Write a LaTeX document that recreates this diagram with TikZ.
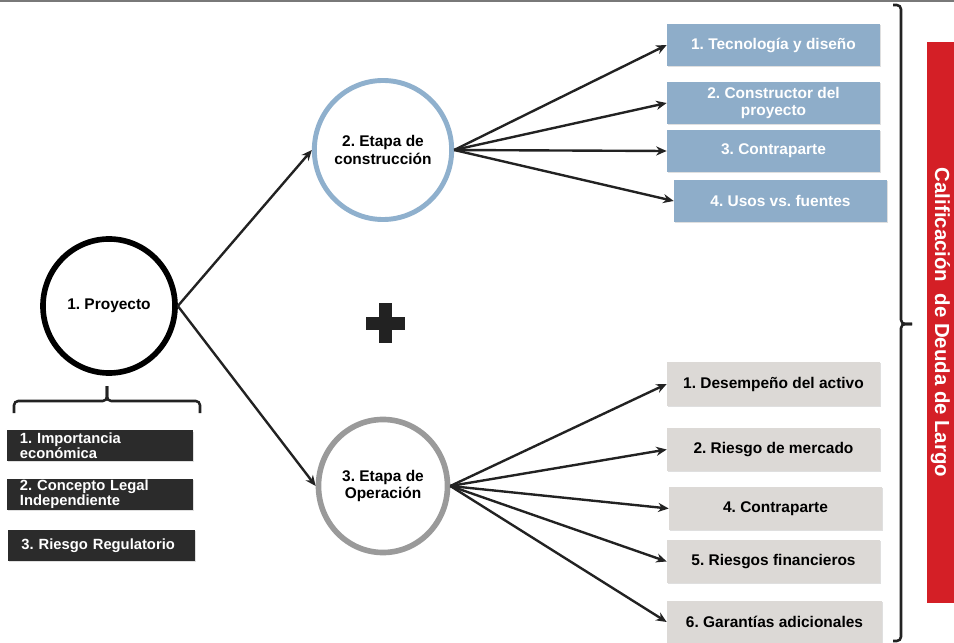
\documentclass[tikz,border=0pt]{standalone}
\usepackage{fontspec}
\setmainfont{Liberation Sans}
\usetikzlibrary{arrows.meta,shapes.geometric,shadows}
\definecolor{boxblue}{HTML}{8EADC9}
\definecolor{ringblue}{HTML}{8FB0CD}
\definecolor{boxgrey}{HTML}{DCD9D6}
\definecolor{ringgrey}{HTML}{9A9A9A}
\definecolor{boxdark}{HTML}{2B2B2B}
\definecolor{ratingred}{HTML}{D41F26}
\definecolor{linedark}{HTML}{222222}

\begin{document}
\frenchspacing
\begin{tikzpicture}
[x=0.025cm,y=-0.025cm,
 every node/.style={font=\fontsize{11}{12.5}\selectfont\bfseries},
 soft/.style={drop shadow={opacity=0.25,shadow xshift=0.8pt,shadow yshift=-0.8pt}},
 stage/.style={ellipse,draw,fill=white,line width=3.5pt,inner sep=0pt,align=center,soft},
 bluebox/.style={fill=boxblue,text=white,minimum width=5.325cm,minimum height=1.05cm,
   inner sep=0pt,align=center,soft},
 greybox/.style={fill=boxgrey,text=black,minimum width=5.325cm,minimum height=1.075cm,
   inner sep=0pt,align=center,soft},
 darkbox/.style={fill=boxdark,text=white,minimum width=4.65cm,minimum height=0.75cm,
   text width=4cm,inner xsep=0.325cm,inner ysep=0pt,align=left,
   font=\fontsize{10.5}{10.5}\selectfont\bfseries,soft},
 arr/.style={draw=linedark,line width=1.7pt,-{Stealth[length=7.5pt,width=6.5pt]}},
 brc/.style={draw=linedark,line width=1.8pt,rounded corners=3pt}]

\useasboundingbox (0,0) rectangle (954,643);
\draw[color=gray!95!black,line width=1.6pt] (0,1) -- (954,1);

% stages
\node[stage,line width=4pt,minimum width=3.3cm,minimum height=3.35cm] (proj) at (109,306) {1. Proyecto};
\node[stage,draw=ringblue,minimum width=3.225cm,minimum height=3.475cm] (constr) at (383,150)
  {2. Etapa de\\construcción};
\node[stage,draw=ringgrey,line width=4pt,minimum width=3.225cm,minimum height=3.325cm] (oper) at (383,486)
  {3. Etapa de\\Operación};

% plus sign
\fill[linedark] (366,316.5) rectangle (405,329.5);
\fill[linedark] (379,303) rectangle (392,343);

% construction items
\node[bluebox] (tec) at (773.5,45) {1. Tecnología y diseño};
\node[bluebox,minimum height=1.05cm] (cons) at (773.5,103) {2. Constructor del\\proyecto};
\node[bluebox] (cpa) at (773.5,151) {3. Contraparte};
\node[bluebox] (usos) at (780.5,201) {4. Usos vs. fuentes};

% operation items
\node[greybox,minimum height=1.1cm] (des) at (773.5,384) {1. Desempeño del activo};
\node[greybox] (mer) at (773.5,449.5) {2. Riesgo de mercado};
\node[greybox] (cpb) at (775.5,508.5) {4. Contraparte};
\node[greybox] (fin) at (773.5,561.5) {5. Riesgos financieros};
\node[greybox,minimum width=5.375cm,minimum height=1.05cm] (gar) at (774.5,622) {6. Garantías adicionales};

% project aspects
\node[darkbox] (imp) at (100,445.5) {1. Importancia\\económica};
\node[darkbox,minimum height=0.775cm] (leg) at (100,494.5) {2. Concepto Legal\\Independiente};
\node[darkbox,minimum width=4.675cm,minimum height=0.775cm] (reg) at (101.5,545.5) {3. Riesgo Regulatorio};

% rating bar
\node[fill=ratingred,text=white,rotate=-90,minimum width=14.025cm,minimum height=0.675cm,
  inner sep=0pt,font=\fontsize{14.5}{15}\selectfont\bfseries] (rating) at (940.5,322.5)
  {Calificación~~de Deuda de Largo};

% braces
\draw[brc] (14,413) -- (14,401) -- (107,401) -- (107,386);
\draw[brc] (200,413) -- (200,401) -- (107,401) -- (107,386);
\draw[brc] (893,5) -- (901,5) -- (901,324) -- (912,324);
\draw[brc] (893,641) -- (901,641) -- (901,324) -- (912,324);

% connectors
\draw[arr] (proj.east) -- (constr.west);
\draw[arr] (proj.east) -- (oper.west);
\foreach \t in {tec,cons,cpa,usos}
  \draw[arr] (constr.east) -- (\t.west);
\foreach \t in {des,mer,cpb,fin,gar}
  \draw[arr] (oper.east) -- (\t.west);

\end{tikzpicture}
\end{document}
